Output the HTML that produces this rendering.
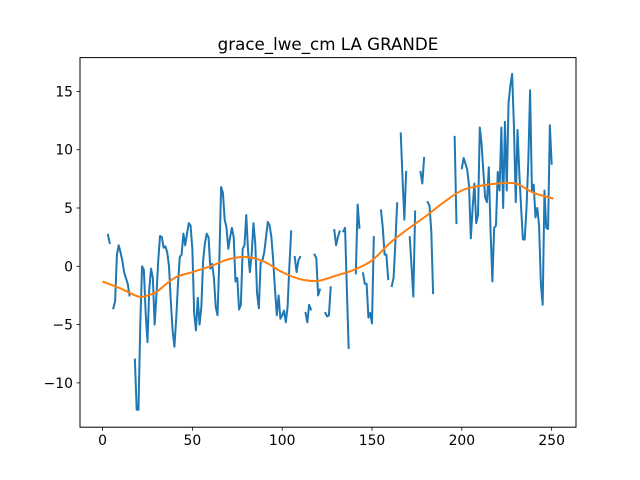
<!DOCTYPE html>
<html><head><meta charset="utf-8"><style>
html,body{margin:0;padding:0;background:#fff;}
svg{display:block;font-family:"DejaVu Sans","Liberation Sans",sans-serif;}
</style></head><body>
<svg id="chart" width="640" height="480" viewBox="0 0 640 480" xmlns="http://www.w3.org/2000/svg">
<rect x="0" y="0" width="640" height="480" fill="#fff"/>
<text x="328" y="50" text-anchor="middle" font-size="16.7" fill="#000">grace_lwe_cm LA GRANDE</text>
<g id="plot"></g>
</svg>
<script>
const xTicks = [0, 50, 100, 150, 200, 250];
const yTicks = [-10, -5, 0, 5, 10, 15];
const N = null;
const lweValues = [N,N,N,2.7,2.0,N,-3.6,-3.0,1.0,1.8,1.2,0.5,-0.5,-1.0,-1.5,-2.5,N,N,
-8,-12.3,-12.3,-5,0,-0.3,-4,-6.5,-2,-0.2,-1,-5,-2.5,0.5,2.6,2.5,1.6,1.7,1.2,0,-3,-5.5,
-6.9,-4.5,-1.5,0.8,1,2.8,1.8,2.8,3.7,3.5,1.5,-4,-5.5,-2.7,-5,-3.5,0.5,2,2.8,2.5,
-0.2,0.2,-1,-3.5,-4.2,0.5,6.8,6.3,4,3.3,1.5,2.5,3.3,2.5,-1.3,-1,-3.7,-3.3,1.5,1.8,
4.4,1.3,-0.5,1,3.7,2,-2.3,-3.6,0.3,0.5,1.2,2.5,3.8,3.5,2.5,0.5,-2,-4.2,-2.5,-4.5,
-4.2,-3.8,-4.8,-3.5,0,3,N,0.8,-0.5,0.5,0.8,N,N,-4,-4.8,-3.3,-3.7,N,1,0.7,-2.5,-2,
N,N,-4,-4.3,-4.2,-1.8,N,3.1,1.8,2.5,3,N,3.0,3.3,-2,-7,N,N,N,-0.6,5.3,3.3,N,-0.6,
-1.5,-1.5,-4.4,-4.0,-4.9,2.5,N,N,N,4.8,3.3,1,1,-1.1,N,-1.7,-1,2,5.4,N,11.4,7.5,4,8.1,
N,2.5,0,-2.6,4.7,N,N,8.1,7.1,9.3,N,5.5,5.2,3,-2.3,N,N,N,N,N,N,N,N,N,N,N,11.1,3.7,N,N,
8.4,9.3,8.8,8.3,6.9,2.4,5,7.1,3.7,4.4,11.9,10.5,8.1,5.9,5.5,8.5,3,-1.3,3.3,3.5,
8.1,6.5,11.9,5,12.4,6.5,14,15.5,16.5,12,5.5,11.7,8,5,2.3,2.3,5,9,15.1,6.5,
7,4.2,5,3.5,-1.5,-3.3,6.5,3.3,3.2,12.1,8.8];
const trendX = [0,10,20,25,30,40,50,60,70,80,90,100,110,120,130,140,150,160,170,180,190,200,210,220,230,240,251];
const trendY = [-1.3,-1.9,-2.6,-2.5,-2.2,-1,-0.5,0,0.6,0.8,0.4,-0.5,-1.1,-1.25,-0.8,-0.3,0.5,2,3.2,4.3,5.5,6.5,6.9,7.1,7.1,6.3,5.8];

const L=80,R=576,T=57.6,B=427.2;
const xMin=-12.55,xMax=263.55,yMin=-13.8,yMax=17.9;
const sx=v=>L+(v-xMin)/(xMax-xMin)*(R-L);
const sy=v=>B-(v-yMin)/(yMax-yMin)*(B-T);
const NS="http://www.w3.org/2000/svg";
const g=document.getElementById('plot');
function mk(tag,attrs){const e=document.createElementNS(NS,tag);for(const k in attrs)e.setAttribute(k,attrs[k]);g.appendChild(e);return e;}

// blue series
let d="";let pen=false;
lweValues.forEach((v,i)=>{if(v===null){pen=false;return;}d+=(pen?"L":"M")+sx(i).toFixed(2)+","+sy(v).toFixed(2);pen=true;});
const blue=mk('path',{d:d,fill:'none',stroke:'#1f77b4','stroke-width':2,'stroke-linejoin':'round','stroke-linecap':'square'});



// trend (Catmull-Rom)
const P=trendX.map((x,i)=>[sx(x),sy(trendY[i])]);
let td="M"+P[0][0]+","+P[0][1];
for(let i=0;i<P.length-1;i++){const p0=P[Math.max(0,i-1)],p1=P[i],p2=P[i+1],p3=P[Math.min(P.length-1,i+2)];
const c1=[p1[0]+(p2[0]-p0[0])/6,p1[1]+(p2[1]-p0[1])/6],c2=[p2[0]-(p3[0]-p1[0])/6,p2[1]-(p3[1]-p1[1])/6];
td+="C"+c1[0]+","+c1[1]+" "+c2[0]+","+c2[1]+" "+p2[0]+","+p2[1];}
const orange=mk('path',{d:td,fill:'none',stroke:'#ff7f0e','stroke-width':2});



// frame
const frame=mk('rect',{x:L,y:T,width:R-L,height:B-T,fill:'none',stroke:'#000','stroke-width':1});



xTicks.forEach(t=>{const x=sx(t);
const tk=mk('line',{x1:x,x2:x,y1:B,y2:B+3.5,stroke:'#000','stroke-width':0.8});


const lb=mk('text',{x:x,y:B+18,'text-anchor':'middle','font-size':13.9,fill:'#000'});lb.textContent=t;

});
yTicks.forEach(t=>{const y=sy(t);
const tk=mk('line',{x1:L-3.5,x2:L,y1:y,y2:y,stroke:'#000','stroke-width':0.8});


const lb=mk('text',{x:L-7,y:y+5,'text-anchor':'end','font-size':13.9,fill:'#000'});lb.textContent=(t<0?"\u2212"+(-t):t);

});
</script>
</body></html>
